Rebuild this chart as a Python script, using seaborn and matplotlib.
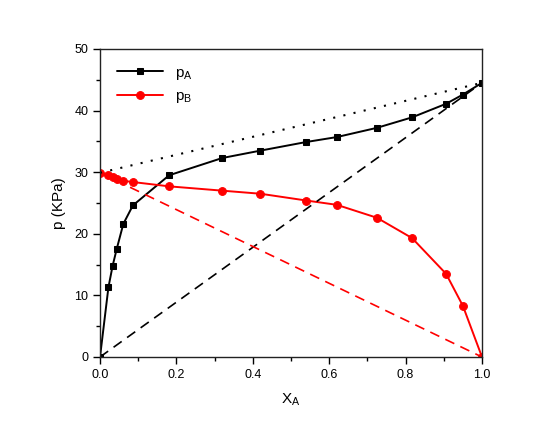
import matplotlib
matplotlib.use("Agg")
import matplotlib.pyplot as plt
import numpy as np
import pandas as pd
import seaborn as sns
from matplotlib.ticker import MultipleLocator

# mole fraction of A and partial pressures (kPa)
x_a = [0.0, 0.022, 0.033, 0.044, 0.061, 0.086, 0.181, 0.32, 0.42, 0.54,
       0.62, 0.725, 0.817, 0.906, 0.95, 1.0]
p_a = [0.0, 11.3, 14.8, 17.6, 21.6, 24.6, 29.5, 32.3, 33.5, 34.9,
       35.7, 37.2, 38.9, 41.1, 42.6, 44.5]
p_b = [29.9, 29.5, 29.2, 28.9, 28.6, 28.4, 27.7, 27.0, 26.5, 25.4,
       24.7, 22.6, 19.3, 13.5, 8.3, 0.0]

sns.set_style("ticks")
plt.rcParams["font.family"] = ["Liberation Sans", "DejaVu Sans"]
plt.rcParams["mathtext.fontset"] = "custom"
plt.rcParams["mathtext.rm"] = "Liberation Sans"
plt.rcParams["mathtext.it"] = "Liberation Sans"
plt.rcParams["text.color"] = "black"
plt.rcParams["axes.labelcolor"] = "black"
plt.rcParams["xtick.color"] = "black"
plt.rcParams["ytick.color"] = "black"

df = pd.DataFrame({"x": x_a, "pa": p_a, "pb": p_b})

fig = plt.figure(figsize=(5.6, 4.3), dpi=100)
ax = fig.add_axes([0.1786, 0.1698, 0.6821, 0.7163])

sns.lineplot(data=df, x="x", y="pa", color="black", marker="s", markersize=4.8,
             markeredgecolor="black", linewidth=1.4, label=r"p$_\mathregular{A}$", ax=ax)
sns.lineplot(data=df, x="x", y="pb", color="red", marker="o", markersize=5.6,
             markeredgecolor="red", linewidth=1.4, label=r"p$_\mathregular{B}$", ax=ax)

# ideal (Raoult) lines from pure-component pressures
pa_star = p_a[-1]
pb_star = p_b[0]
ends = np.array([0.0, 1.0])
ax.plot(ends, ends * pa_star, color="black", linestyle=(0, (6, 4)), linewidth=1.2)
ax.plot(ends, (1 - ends) * pb_star, color="red", linestyle=(0, (6, 4)), linewidth=1.2)
ax.plot(ends, pb_star + ends * (pa_star - pb_star), color="black",
        linestyle=(0, (1, 4)), linewidth=1.5)

ax.set_xlim(0, 1)
ax.set_ylim(0, 50)
ax.xaxis.set_major_locator(MultipleLocator(0.2))
ax.xaxis.set_minor_locator(MultipleLocator(0.1))
ax.yaxis.set_major_locator(MultipleLocator(10))
ax.yaxis.set_minor_locator(MultipleLocator(5))
ax.xaxis.set_major_formatter(matplotlib.ticker.FormatStrFormatter("%.1f"))
ax.tick_params(which="major", direction="out", length=5, width=1, labelsize=9)
ax.tick_params(which="minor", direction="out", length=3, width=1)
for s in ax.spines.values():
    s.set_visible(True)
    s.set_linewidth(1.0)
    s.set_color("#222222")

ax.set_xlabel(r"X$_\mathregular{A}$", fontsize=11, labelpad=8)
ax.set_ylabel("p (KPa)", fontsize=11, labelpad=6)

ax.legend(loc="upper left", frameon=False, fontsize=11, handlelength=3.0,
          borderaxespad=0.7, labelspacing=0.5)

fig.savefig("out.png", dpi=100)
